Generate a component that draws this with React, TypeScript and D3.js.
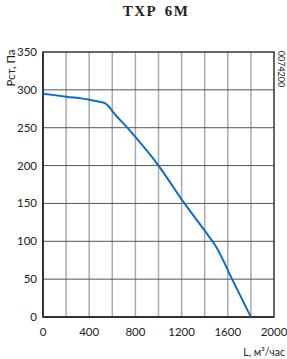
import React from "react";
import * as d3 from "d3";

const flowValues = [0, 200, 400, 500, 540, 570, 600, 730, 1000, 1225, 1400, 1490, 1650, 1800];
const pressureValues = [295, 291, 287, 284, 282, 278, 272, 250, 200, 150, 114, 95, 46, 0];
const xTicks = [0, 400, 800, 1200, 1600, 2000];
const xGrid = [200, 400, 600, 800, 1000, 1200, 1400, 1600, 1800];
const yTicks = [0, 50, 100, 150, 200, 250, 300, 350];

const W = 287, H = 359;
const left = 43, right = 274, top = 52, bottom = 317;

export default function App() {
  const x = d3.scaleLinear().domain([0, 2000]).range([left, right]);
  const y = d3.scaleLinear().domain([0, 350]).range([bottom, top]);
  const pts = flowValues.map((f, i) => [f, pressureValues[i]] as [number, number]);
  const line = d3.line<[number, number]>().x(d => x(d[0])).y(d => y(d[1])).curve(d3.curveMonotoneX);
  const font = "Lato, 'Open Sans', sans-serif";
  return (
    <svg width={W} height={H} style={{ position: "absolute", left: 0, top: 0, background: "#fff" }}>
      <text x={156} y={16} textAnchor="middle" fontFamily="'Liberation Serif', serif" fontWeight="bold" fontSize={15} letterSpacing={1.5} wordSpacing={3} fill="#222">TXP 6M</text>
      {xGrid.map(v => (
        <line key={"vx" + v} x1={x(v)} x2={x(v)} y1={top} y2={bottom} stroke="#aaa" strokeWidth={1.5} />
      ))}
      {yTicks.slice(1, -1).map(v => (
        <line key={"hy" + v} x1={left} x2={right} y1={y(v)} y2={y(v)} stroke="#555" strokeWidth={1} />
      ))}
      <rect x={left} y={top} width={right - left} height={bottom - top} fill="none" stroke="#333" strokeWidth={1.5} />
      <line x1={left} x2={left} y1={top} y2={bottom} stroke="#333" strokeWidth={2} />
      <line x1={left} x2={right} y1={bottom} y2={bottom} stroke="#333" strokeWidth={2} />
      <path d={line(pts) || ""} fill="none" stroke="#0b6ec5" strokeWidth={2} />
      {yTicks.map(v => (
        <text key={"yt" + v} x={37} y={y(v) + 4} textAnchor="end" fontFamily={font} fontSize={11.5} fill="#222">{v}</text>
      ))}
      {xTicks.map(v => (
        <text key={"xt" + v} x={x(v)} y={336} textAnchor="middle" fontFamily={font} fontSize={11.5} fill="#222">{v}</text>
      ))}
      <text x={285} y={356} textAnchor="end" fontFamily={font} fontSize={10.5} fill="#222">L, м³/час</text>
      <text transform="translate(15,68) rotate(-90)" textAnchor="middle" fontFamily={font} fontSize={11.5} fill="#222">Рст, Па</text>
      <text transform="translate(278,69) rotate(90)" textAnchor="middle" fontFamily={font} fontSize={9} fill="#222">0074200</text>
    </svg>
  );
}
